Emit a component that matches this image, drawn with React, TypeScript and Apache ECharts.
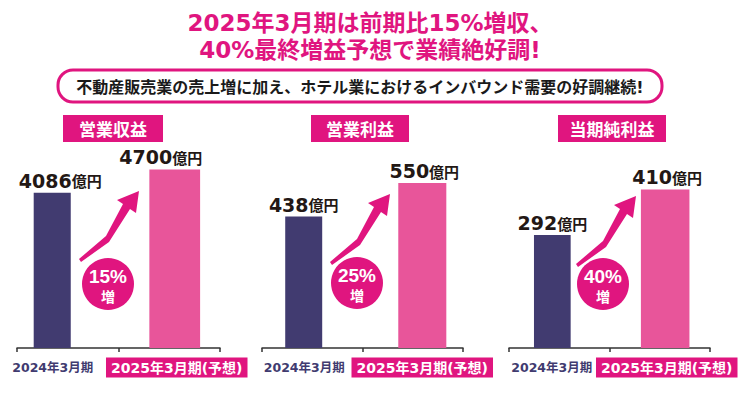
import React, { useEffect, useRef } from "react";
import * as echarts from "echarts";

// ---- data ----
const periods = ["2024年3月期", "2025年3月期(予想)"];
const metrics = ["営業収益", "営業利益", "当期純利益"];
const revenue = [4086, 4700];
const operatingProfit = [438, 550];
const netProfit = [292, 410];
const growthLabels = ["15%", "25%", "40%"];
const growthWord = "増";
const unit = "億円";
const headline = ["2025年3月期は前期比15%増収、", "40%最終増益予想で業績絶好調!"];
const subline = "不動産販売業の売上増に加え、ホテル業におけるインバウンド需要の好調継続!";
const yMax = [6000, 700, 600];

// ---- styles / layout ----
const MAGENTA = "#e0157f";
const NAVY = "#413b70";
const PINK = "#e8559a";
const INK = "#231815";
const FONT_WIDE = '"DejaVu Sans", "Noto Sans CJK JP", sans-serif';
const FONT_JP = '"Noto Sans CJK JP", sans-serif';
const FONT_HELV = '"Liberation Sans", "Noto Sans CJK JP", sans-serif';

const panelValues = [revenue, operatingProfit, netProfit];
const grids = [
  { left: 17, width: 203, top: 120, bottom: 45 },
  { left: 262, width: 201, top: 138, bottom: 45 },
  { left: 509, width: 203, top: 116, bottom: 45 },
];
const titleBoxes = [
  { left: 63, padX: 16 },
  { left: 311, padX: 15 },
  { left: 558, padX: 11.5 },
];
// bar centre offset (fraction of band), bar width (fraction of band), value-label dx (px)
const barStyle = [
  [{ off: -0.153, w: 0.365, ldx: 8 }, { off: 0.054, w: 0.5, ldx: -14 }],
  [{ off: -0.085, w: 0.368, ldx: 0 }, { off: 0.095, w: 0.478, ldx: 2 }],
  [{ off: -0.069, w: 0.365, ldx: 0 }, { off: 0.054, w: 0.483, ldx: 2 }],
];
const labelSpacers = [
  [30, 15],
  [16, 19],
  [15, 14],
];
const arrowAnchors = [
  [79, 259],
  [330, 262],
  [576, 264],
];
const arrowShape = [
  [0, 0], [27, -23], [44, -55], [38, -59], [60, -68], [57, -46], [51, -50], [30, -17], [2, 3],
];
const circleCenters = [
  [108, 284],
  [357, 283],
  [603, 284],
];
const barColors = [NAVY, PINK];

export default function App() {
  const ref = useRef<HTMLDivElement>(null);

  useEffect(() => {
    if (!ref.current) return;
    const chart = echarts.init(ref.current, undefined, { renderer: "svg" });

    const graphic: any[] = [];
    headline.forEach((line, i) => {
      graphic.push({
        type: "text",
        x: 370,
        y: 23 + i * 27,
        style: {
          text: line,
          fill: MAGENTA,
          fontSize: 23,
          fontWeight: "bold",
          fontFamily: FONT_WIDE,
          align: "center",
          verticalAlign: "middle",
        },
      });
    });
    graphic.push({
      type: "rect",
      shape: { x: 58, y: 70, width: 604, height: 32, r: 15 },
      style: { fill: "#fff", stroke: MAGENTA, lineWidth: 3 },
    });
    graphic.push({
      type: "text",
      x: 360,
      y: 87,
      style: {
        text: subline,
        fill: "#1a1a1a",
        fontSize: 16,
        fontWeight: "bold",
        fontFamily: FONT_WIDE,
        align: "center",
        verticalAlign: "middle",
      },
    });
    arrowAnchors.forEach(([ax, ay]) => {
      graphic.push({
        type: "polygon",
        shape: { points: arrowShape.map(([px, py]) => [ax + px, ay + py]) },
        style: { fill: MAGENTA },
      });
    });
    circleCenters.forEach(([cx, cy], i) => {
      graphic.push({ type: "circle", shape: { cx, cy, r: 26 }, style: { fill: MAGENTA } });
      graphic.push({
        type: "text",
        x: cx,
        y: cy - 8,
        style: {
          text: growthLabels[i],
          fill: "#fff",
          fontSize: 19,
          fontWeight: "bold",
          fontFamily: FONT_HELV,
          align: "center",
          verticalAlign: "middle",
        },
      });
      graphic.push({
        type: "text",
        x: cx,
        y: cy + 12,
        style: {
          text: growthWord,
          fill: "#fff",
          fontSize: 14,
          fontWeight: "bold",
          fontFamily: FONT_JP,
          align: "center",
          verticalAlign: "middle",
        },
      });
    });

    const option: any = {
      animation: false,
      title: metrics.map((m, i) => ({
        text: m,
        left: titleBoxes[i].left,
        top: 115,
        padding: [5, titleBoxes[i].padX],
        backgroundColor: MAGENTA,
        textStyle: {
          color: "#fff",
          fontSize: 17,
          lineHeight: 17,
          fontWeight: "bold",
          fontFamily: FONT_JP,
        },
      })),
      grid: grids.map((g) => ({ ...g, containLabel: false })),
      xAxis: grids.map((_, i) => ({
        type: "category",
        gridIndex: i,
        data: periods,
        axisLine: { lineStyle: { color: "#333", width: 1.5 } },
        axisTick: { show: true, length: 4, lineStyle: { color: "#333", width: 1.5 } },
        axisLabel: {
          margin: 9,
          interval: 0,
          formatter: (value: string, index: number) =>
            index === 0 ? `{a|${value}}{s0| }` : `{s1| }{b|${value}}`,
          rich: {
            a: {
              color: NAVY,
              fontSize: 12.5,
              fontWeight: "bold",
              fontFamily: FONT_WIDE,
              lineHeight: 21,
            },
            b: {
              color: "#fff",
              backgroundColor: MAGENTA,
              padding: [3, 5, 3, 5],
              fontSize: 14,
              fontWeight: "bold",
              fontFamily: FONT_WIDE,
              lineHeight: 15,
            },
            s0: { width: labelSpacers[i][0], lineHeight: 21 },
            s1: { width: labelSpacers[i][1], lineHeight: 21 },
          },
        },
      })),
      yAxis: grids.map((_, i) => ({
        type: "value",
        gridIndex: i,
        min: 0,
        max: yMax[i],
        show: false,
        splitLine: { show: false },
      })),
      series: panelValues.map((vals, i) => ({
        type: "custom",
        name: metrics[i],
        xAxisIndex: i,
        yAxisIndex: i,
        data: vals.map((v, j) => [j, v]),
        clip: false,
        renderItem: (params: any, api: any) => {
          const j = api.value(0);
          const v = api.value(1);
          const base = api.coord([j, 0]);
          const top = api.coord([j, v]);
          const band = api.size([1, 0])[0];
          const st = barStyle[i][j];
          const cx = base[0] + st.off * band;
          const w = st.w * band;
          return {
            type: "group",
            children: [
              {
                type: "rect",
                shape: { x: cx - w / 2, y: top[1], width: w, height: base[1] - top[1] },
                style: { fill: barColors[j] },
              },
              {
                type: "text",
                x: cx + st.ldx,
                y: top[1] - 12,
                style: {
                  text: `{n|${v}}{u|${unit}}`,
                  align: "center",
                  verticalAlign: "middle",
                  rich: {
                    n: { fontSize: 19, fontWeight: "bold", fontFamily: FONT_WIDE, fill: INK },
                    u: { fontSize: 15, fontWeight: "bold", fontFamily: FONT_JP, fill: INK },
                  },
                },
              },
            ],
          };
        },
      })),
      graphic,
    };

    chart.setOption(option);
    return () => chart.dispose();
  }, []);

  return (
    <div
      ref={ref}
      style={{ position: "fixed", left: 0, top: 0, width: 740, height: 393, background: "#fff" }}
    />
  );
}
